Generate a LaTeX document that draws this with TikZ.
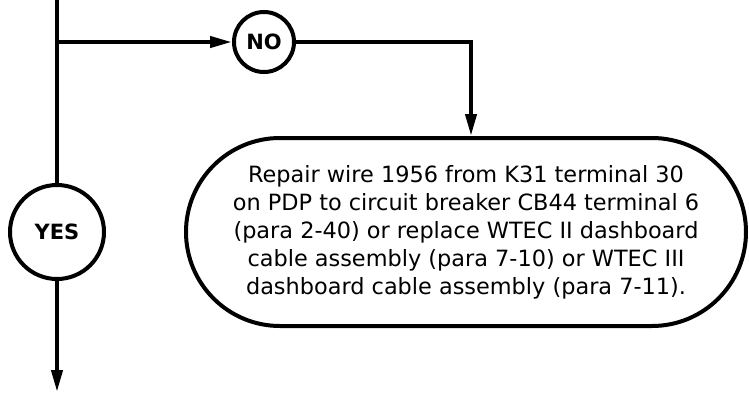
\documentclass[tikz,border=0pt]{standalone}
\usepackage{fontspec}
\setmainfont{DejaVu Sans}
\usetikzlibrary{arrows.meta}

\begin{document}
\begin{tikzpicture}[x=1pt,y=-1pt,line width=4pt,
        every node/.style={font=\fontsize{22.4}{28}\selectfont},
        answer/.style={draw,circle,inner sep=0pt,font=\fontsize{21}{28}\selectfont\bfseries},
        action/.style={draw,rounded corners=94pt,minimum width=560pt,minimum height=188pt,align=center},
        tip/.style={-{Triangle[length=22pt,width=11pt]}}]
        \useasboundingbox (0,0) rectangle (749,392);

        % Answers
        \node[answer,minimum size=60pt] (no) at (264,42) {NO};
        \node[answer,minimum size=94pt] (yes) at (57,232) {YES};

        % Repair step
        \node[action] (repair) at (466,232) {Repair wire 1956 from K31 terminal 30\\
            on PDP to circuit breaker CB44 terminal 6\\
            (para 2-40) or replace WTEC II dashboard\\
            cable assembly (para 7-10) or WTEC III\\
            dashboard cable assembly (para 7-11).};

        \coordinate (top) at (57,0);
        \coordinate (split) at (57,42);
        \coordinate (corner) at (471,42);
        \coordinate (bottom) at (57,392);

        % Flow lines
        \draw (top) -- (yes);
        \draw[tip] (split) -- (no);
        \draw[tip] (no) -- (corner) -- (repair.north -| corner);
        \draw[tip] (yes) -- (bottom);
    \end{tikzpicture}
\end{document}
